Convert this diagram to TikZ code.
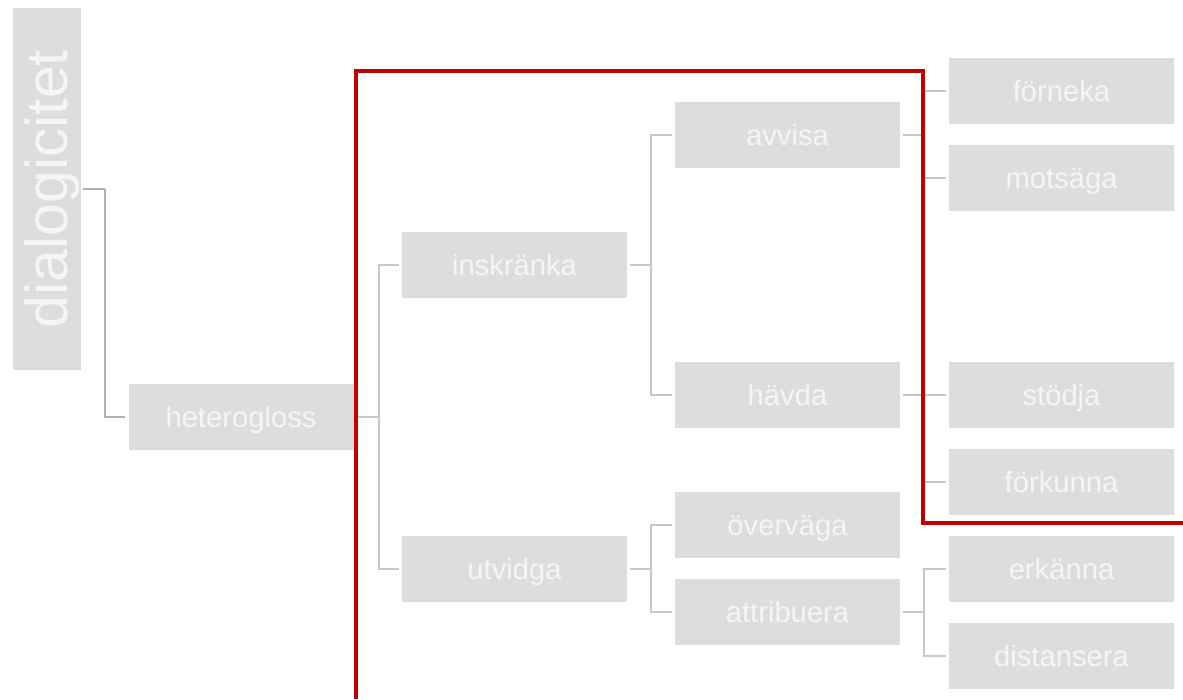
\documentclass[tikz,border=0pt]{standalone}
\usepackage{fontspec}
\setmainfont{Liberation Sans}
\definecolor{boxfill}{HTML}{DDDDDD}
\definecolor{boxtext}{HTML}{F5F5F5}
\definecolor{connc}{HTML}{C8C8C8}
\definecolor{conndark}{HTML}{B0B0B0}
\definecolor{redline}{HTML}{C00000}
\tikzset{
  gbox/.style={fill=boxfill, draw=none, inner sep=0pt, minimum width=225pt, minimum height=66pt,
    text=boxtext, font=\fontsize{29.2}{35}\selectfont, text height=26.4pt, text depth=6.2pt},
  conn/.style={draw=connc, line width=2.2pt},
  conndk/.style={draw=conndark, line width=2.2pt},
  redbar/.style={draw=redline, line width=4pt}
}
\begin{document}
\begin{tikzpicture}[x=1pt,y=-1pt]
\useasboundingbox (0,0) rectangle (1183,699);
\fill[white] (0,0) rectangle (1183,699);
% nodes
\node[fill=boxfill, inner sep=0pt, minimum width=68pt, minimum height=362pt] (dial) at (47,189) {};
\node[text=boxtext, rotate=90, inner sep=0pt, font=\fontsize{59}{70}\selectfont, text height=53.4pt, text depth=12.5pt] (dialt) at (47,189) {dialogicitet};
\node[gbox] (het) at (241,417) {heterogloss};
\node[gbox] (insk) at (514.5,265) {inskränka};
\node[gbox] (utv) at (514.5,569) {utvidga};
\node[gbox] (avv) at (787.5,135) {avvisa};
\node[gbox] (hav) at (787.5,395) {hävda};
\node[gbox] (ove) at (787.5,525) {överväga};
\node[gbox] (att) at (787.5,612) {attribuera};
\node[gbox] (forn) at (1061.5,91) {förneka};
\node[gbox] (mots) at (1061.5,178) {motsäga};
\node[gbox] (stod) at (1061.5,395) {stödja};
\node[gbox] (fork) at (1061.5,482) {förkunna};
\node[gbox] (erk) at (1061.5,569) {erkänna};
\node[gbox] (dist) at (1061.5,656) {distansera};
% connectors
\draw[conndk] ([xshift=2pt]dial.east) -- ++(22,0) coordinate (j0);
\draw[conndk] (j0) |- ([xshift=-3pt]het.west);
\draw[conn] ([xshift=3pt]het.east) -- ++(22,0) coordinate (j1);
\draw[conn] (j1) |- ([xshift=-3pt]insk.west);
\draw[conn] (j1) |- ([xshift=-3pt]utv.west);
\draw[conn] ([xshift=3pt]insk.east) -- ++(21,0) coordinate (j2);
\draw[conn] (j2) |- ([xshift=-3pt]avv.west);
\draw[conn] (j2) |- ([xshift=-3pt]hav.west);
\draw[conn] ([xshift=3pt]utv.east) -- ++(21,0) coordinate (j3);
\draw[conn] (j3) |- ([xshift=-3pt]ove.west);
\draw[conn] (j3) |- ([xshift=-3pt]att.west);
\draw[conn] ([xshift=3pt]avv.east) -- ++(21,0) coordinate (j4);
\draw[conn] (j4) |- ([xshift=-3pt]forn.west);
\draw[conn] (j4) |- ([xshift=-3pt]mots.west);
\draw[conn] ([xshift=3pt]hav.east) -- ++(21,0) coordinate (j5);
\draw[conn] (j5) |- ([xshift=-3pt]stod.west);
\draw[conn] (j5) |- ([xshift=-3pt]fork.west);
\draw[conn] ([xshift=3pt]att.east) -- ++(21,0) coordinate (j6);
\draw[conn] (j6) |- ([xshift=-3pt]erk.west);
\draw[conn] (j6) |- ([xshift=-3pt]dist.west);
% red outline
\coordinate (r1) at (355.5,699);
\coordinate (r2) at (355.5,70.5);
\coordinate (r3) at (922.5,70.5);
\coordinate (r4) at (922.5,522.5);
\coordinate (r5) at (1183,522.5);
\draw[redbar, line join=miter] (r1) -- (r2) -- (r3) -- (r4) -- (r5);
\end{tikzpicture}
\end{document}
